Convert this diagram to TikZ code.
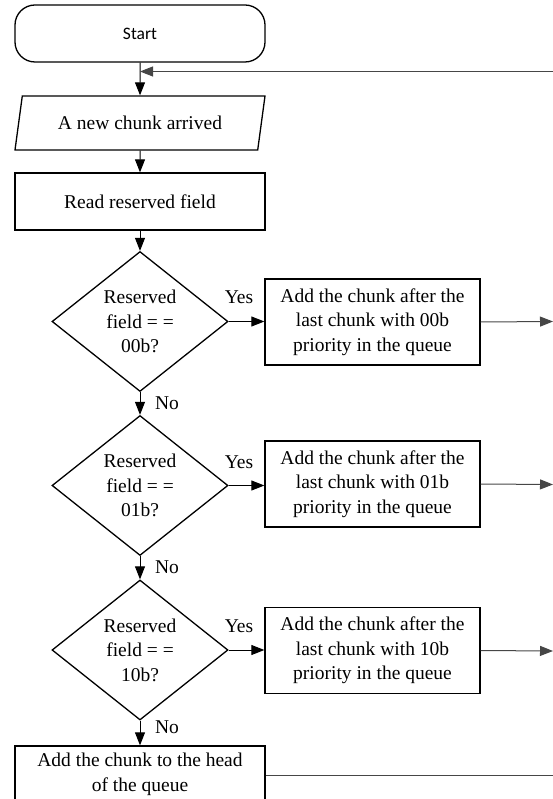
\documentclass[tikz,border=0pt]{standalone}
\usepackage{fontspec}
\setmainfont{Liberation Serif}
\newfontfamily\startfont{Carlito}
\usetikzlibrary{arrows.meta,calc,positioning,shapes.geometric}

\tikzset{
  box/.style={draw, line width=1.3pt, minimum width=250pt, minimum height=57pt,
    inner sep=0pt, align=center},
  terminal/.style={box, rounded corners=20pt, font=\startfont\fontsize{17.5}{20}\selectfont},
  io/.style={draw, line width=1.3pt, trapezium, trapezium left angle=62,
    trapezium right angle=118, trapezium stretches body, minimum width=250pt,
    minimum height=54pt, inner sep=0pt},
  decision/.style={draw, line width=1.3pt, diamond, aspect=1.25, minimum width=176pt,
    minimum height=140pt, inner sep=0pt, align=center},
  action/.style={draw, line width=1.3pt, minimum width=215pt, minimum height=86pt,
    inner sep=0pt, align=center},
  flow/.style={line width=1pt, -{Triangle[length=13pt,width=10pt]}},
  outline/.style={gray!55!black},
}

\begin{document}
\begin{tikzpicture}[x=1pt, y=-1pt, font=\fontsize{19.5}{24.5}\selectfont]
  \useasboundingbox (0,0) rectangle (553,799);

  % Start, input and read
  \node[terminal] (start) at (140,33.5) {Start};
  \node[io] (arrive) at (140,123) {A new chunk arrived};
  \node[box] (read) at (140,201.5) {Read reserved field};

  % Decisions on the reserved field
  \node[decision] (dec1) at (140,321.5) {Reserved\\field = =\\00b?};
  \node[decision] (dec2) at (140,485.5) {Reserved\\field = =\\01b?};
  \node[decision] (dec3) at (140,650) {Reserved\\field = =\\10b?};

  % Queue insertions
  \node[action] (add1) at (372.5,322) {Add the chunk after the\\last chunk with 00b\\priority in the queue};
  \node[action] (add2) at (372.5,484) {Add the chunk after the\\last chunk with 01b\\priority in the queue};
  \node[action] (add3) at (372.5,650.5) {Add the chunk after the\\last chunk with 10b\\priority in the queue};
  \node[box] (head) at (140,774.5) {Add the chunk to the head\\of the queue};

  % Yes / No labels
  \node (yes1) at (239,297.5) {Yes};
  \node (yes2) at (239,462) {Yes};
  \node (yes3) at (239,626) {Yes};
  \node (no1) at (167,403.5) {No};
  \node (no2) at (167,567.5) {No};
  \node (no3) at (167,727) {No};

  % Loose ends on the right edge
  \coordinate (back) at (553,71.5);
  \coordinate (join) at (start.south |- back);
  \coordinate (out1) at (553,321.5);
  \coordinate (out2) at (553,484.5);
  \coordinate (out3) at (553,651);
  \coordinate (out4) at (553,775.5);

  % Main flow
  \draw[flow] (start) -- (arrive);
  \draw[flow, outline] (back) -- (join);
  \draw[flow] (arrive) -- (read);
  \draw[flow] (read) -- (dec1);
  \draw[flow] (dec1) -- (dec2);
  \draw[flow] (dec2) -- (dec3);
  \draw[flow] (dec3) -- (head);

  % Branches
  \draw[flow] (dec1.east) -- (dec1.east -| add1.west);
  \draw[flow] (dec2.east) -- (dec2.east -| add2.west);
  \draw[flow] (dec3.east) -- (dec3.east -| add3.west);
  \draw[flow, outline] (add1.east) -- (out1);
  \draw[flow, outline] (add2.east) -- (out2);
  \draw[flow, outline] (add3.east) -- (out3);
  \draw[line width=1pt, outline] (head.east |- out4) -- (out4);

\end{tikzpicture}
\end{document}
